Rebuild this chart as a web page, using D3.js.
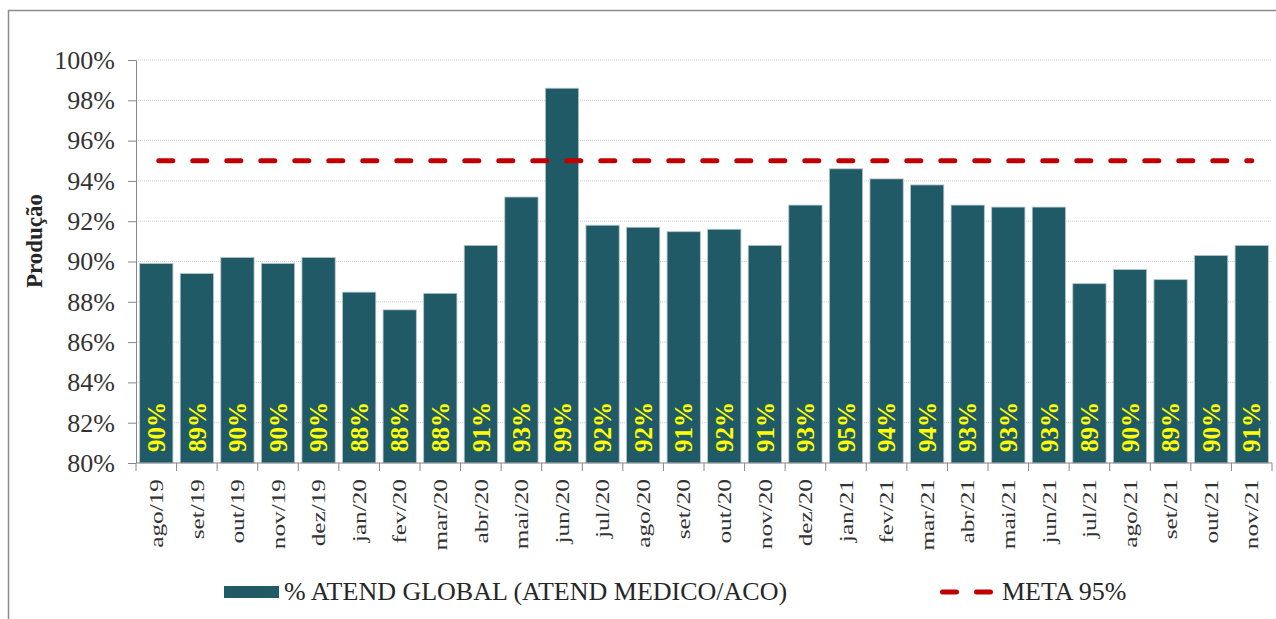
<!DOCTYPE html>
<meta charset="utf-8">
<style>
  body { margin: 0; background: #fff; }
  svg text { font-family: "Liberation Serif", "Times New Roman", serif; }
</style>
<svg id="chart" width="1276" height="619"></svg>

<script src="https://d3js.org/d3.v7.min.js"></script>
<script>
  // data
  var months = ["ago/19", "set/19", "out/19", "nov/19", "dez/19", "jan/20", "fev/20", "mar/20",
    "abr/20", "mai/20", "jun/20", "jul/20", "ago/20", "set/20", "out/20", "nov/20", "dez/20",
    "jan/21", "fev/21", "mar/21", "abr/21", "mai/21", "jun/21", "jul/21", "ago/21", "set/21",
    "out/21", "nov/21"];
  var atend = [0.899, 0.894, 0.902, 0.899, 0.902, 0.8848, 0.876, 0.8842, 0.908, 0.932, 0.986,
    0.918, 0.917, 0.9148, 0.916, 0.908, 0.928, 0.946, 0.941, 0.938, 0.928, 0.927, 0.927,
    0.889, 0.896, 0.891, 0.903, 0.908];
  var meta = 0.95;
  var yTicks = [0.80, 0.82, 0.84, 0.86, 0.88, 0.90, 0.92, 0.94, 0.96, 0.98, 1.00];

  var svg = d3.select("#chart");

  // outer frame
  svg.append("rect")
    .attr("x", 8.5).attr("y", 10.5).attr("width", 1300).attr("height", 700)
    .attr("fill", "none").attr("stroke", "#8c8c8c").attr("stroke-width", 1.5);

  var x = d3.scaleBand()
    .domain(months)
    .range([136, 1272])
    .paddingInner(0.18)
    .paddingOuter(0.09);

  var y = d3.scaleLinear()
    .domain([0.8, 1.0])
    .range([463, 60]);

  // dotted gridlines
  svg.append("g")
    .selectAll("line")
    .data(yTicks.slice(1))
    .enter()
    .append("line")
    .attr("x1", 136).attr("x2", 1272)
    .attr("y1", function (d) { return y(d) }).attr("y2", function (d) { return y(d) })
    .attr("stroke", "#cfcfcf").attr("stroke-dasharray", "1,1");

  // bars
  svg.append("g")
    .selectAll("rect")
    .data(atend)
    .enter()
    .append("rect")
    .attr("x", function (d, i) { return x(months[i]) })
    .attr("y", function (d) { return y(d) })
    .attr("width", x.bandwidth())
    .attr("height", function (d) { return y(0.8) - y(d) })
    .attr("fill", "#215a67")
    .attr("stroke", "#b4c6ca").attr("stroke-width", 0.8);

  // value labels inside the bars
  svg.append("g")
    .selectAll("text")
    .data(atend)
    .enter()
    .append("text")
    .attr("transform", function (d, i) {
      return "translate(" + (x(months[i]) + x.bandwidth() / 2) + "," + (y(0.8) - 11) + ") rotate(-90)";
    })
    .attr("dy", "0.35em")
    .attr("fill", "#ffff00")
    .attr("font-weight", "bold")
    .attr("font-size", 25)
    .text(function (d) { return d3.format(".0%")(d) });

  // meta line
  svg.append("line")
    .attr("x1", x(months[0]) + x.bandwidth() / 2 + 2.5)
    .attr("x2", x(months[months.length - 1]) + x.bandwidth() / 2)
    .attr("y1", y(meta)).attr("y2", y(meta))
    .attr("stroke", "#c00000").attr("stroke-width", 5)
    .attr("stroke-linecap", "round")
    .attr("stroke-dasharray", "14,20");

  // y axis
  var yAxis = svg.append("g")
    .attr("transform", "translate(136,0)")
    .call(d3.axisLeft(y).tickValues(yTicks).tickFormat(d3.format(".0%")).tickSize(8).tickSizeOuter(0).tickPadding(13));
  yAxis.select(".domain").attr("stroke", "#868686");
  yAxis.selectAll(".tick line").attr("stroke", "#868686");
  yAxis.selectAll(".tick text")
    .attr("font-family", "Liberation Serif")
    .attr("font-size", 26)
    .attr("fill", "#333");

  // x axis: line and ticks at category boundaries
  var xAxis = svg.append("g");
  xAxis.append("line")
    .attr("x1", 136).attr("x2", 1272)
    .attr("y1", y(0.8)).attr("y2", y(0.8))
    .attr("stroke", "#868686");
  xAxis.selectAll(".tk")
    .data(d3.range(months.length + 1))
    .enter()
    .append("line")
    .attr("x1", function (i) { return 136 + i * x.step() })
    .attr("x2", function (i) { return 136 + i * x.step() })
    .attr("y1", y(0.8)).attr("y2", y(0.8) + 8)
    .attr("stroke", "#868686");
  xAxis.selectAll(".lbl")
    .data(months)
    .enter()
    .append("text")
    .attr("transform", function (d) {
      return "translate(" + (x(d) + x.bandwidth() / 2) + "," + (y(0.8) + 16) + ") rotate(-90) scale(1.33,1)";
    })
    .attr("text-anchor", "end")
    .attr("dy", "0.35em")
    .attr("font-size", 19)
    .attr("fill", "#333")
    .text(function (d) { return d });

  // y title
  svg.append("text")
    .attr("transform", "translate(34,241) rotate(-90)")
    .attr("text-anchor", "middle")
    .attr("dy", "0.35em")
    .attr("font-weight", "bold")
    .attr("font-size", 23)
    .attr("fill", "#262626")
    .text("Produção");

  // legend
  svg.append("rect")
    .attr("x", 224).attr("y", 586).attr("width", 55).attr("height", 12)
    .attr("fill", "#215a67");
  svg.append("text")
    .attr("x", 284).attr("y", 600)
    .attr("font-size", 26)
    .attr("fill", "#262626")
    .text("% ATEND GLOBAL (ATEND MEDICO/ACO)");
  svg.append("line")
    .attr("x1", 942.5).attr("x2", 990.5)
    .attr("y1", 592).attr("y2", 592)
    .attr("stroke", "#c00000").attr("stroke-width", 5)
    .attr("stroke-linecap", "round")
    .attr("stroke-dasharray", "14,20");
  svg.append("text")
    .attr("x", 1002).attr("y", 600)
    .attr("font-size", 26)
    .attr("fill", "#262626")
    .text("META 95%");
</script>
